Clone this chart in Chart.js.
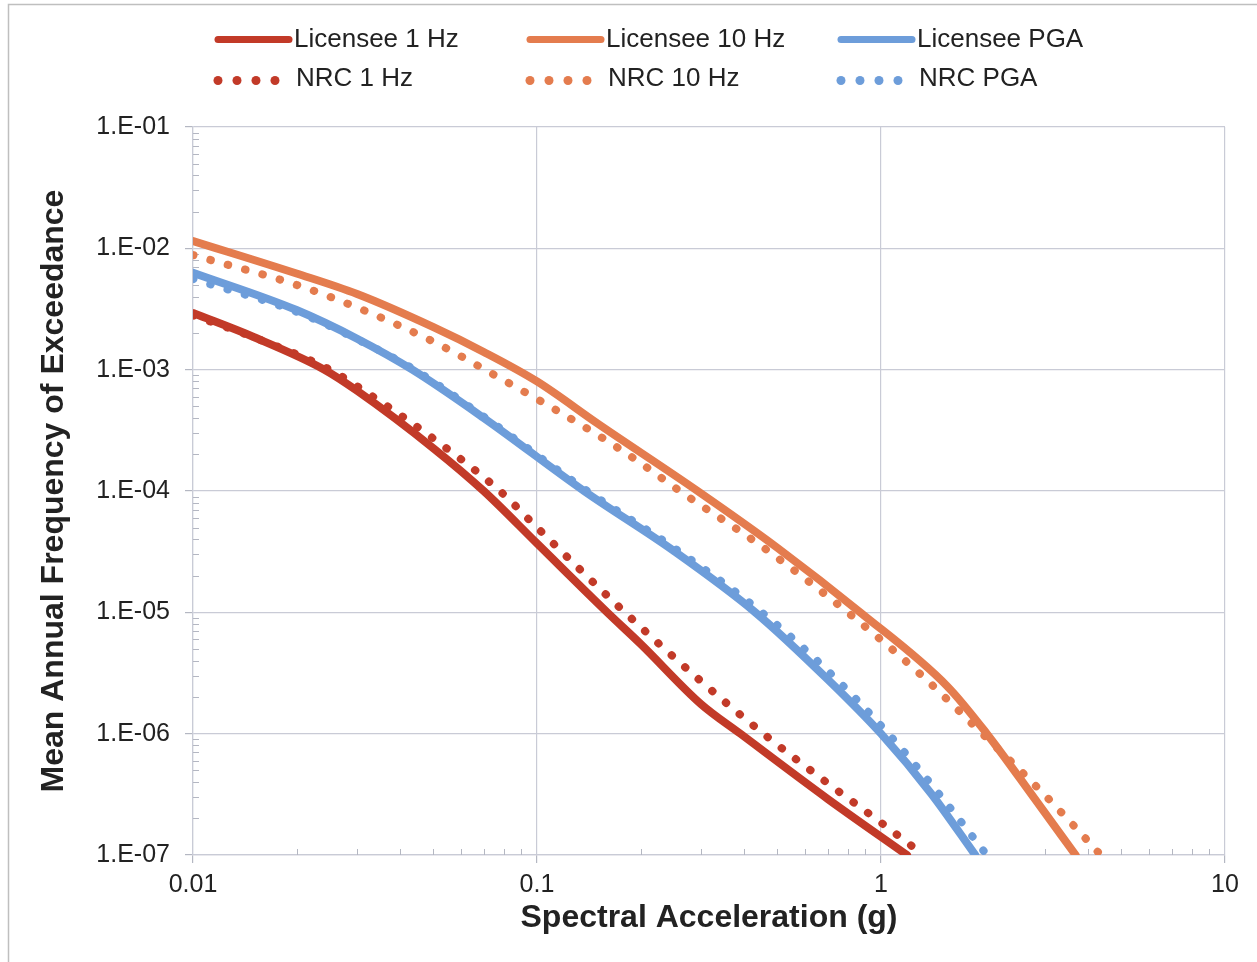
<!DOCTYPE html>
<html>
<head>
<meta charset="utf-8">
<title>Curvas de peligro</title>
<script src="https://cdn.jsdelivr.net/npm/chart.js@4.4.1/dist/chart.umd.min.js"></script>
<style>
    html, body { margin: 0; padding: 0; background: #fff; }
    #grafico { display: block; }
</style>
</head>
<body>
<canvas id="grafico" width="1257" height="962"></canvas>
<script>
const ACEL_LIC_1HZ = [0.01, 0.015, 0.0241, 0.03, 0.05, 0.07, 0.1, 0.16, 0.2, 0.3, 0.39, 0.7, 1.19];
const FREC_LIC_1HZ = [2.93e-3, 1.86e-3, 1e-3, 6.7e-4, 2.25e-4, 1e-4, 3.7e-5, 1e-5, 5.5e-6, 1.75e-6, 1e-6, 2.9e-7, 1e-7];

const ACEL_LIC_10HZ = [0.01, 0.02, 0.03, 0.05, 0.07, 0.1, 0.15, 0.293, 0.5, 0.87, 1.56, 2.03, 2.8, 3.68];
const FREC_LIC_10HZ = [1.15e-2, 6.2e-3, 4.2e-3, 2.24e-3, 1.4e-3, 8.0e-4, 3.6e-4, 1e-4, 3.4e-5, 1e-5, 2.45e-6, 1e-6, 2.9e-7, 1e-7];

const ACEL_LIC_PGA = [0.01, 0.02, 0.03, 0.0434, 0.07, 0.137, 0.25, 0.431, 0.7, 1.0, 1.4, 1.88];
const FREC_LIC_PGA = [6.3e-3, 3.1e-3, 1.8e-3, 1e-3, 4.0e-4, 1e-4, 3.2e-5, 1e-5, 2.8e-6, 1e-6, 3.2e-7, 1e-7];

const ACEL_NRC_1HZ = [0.01, 0.015, 0.025, 0.03, 0.05, 0.078, 0.1, 0.18, 0.3, 0.455, 0.7, 1, 1.33];
const FREC_NRC_1HZ = [2.8e-3, 1.85e-3, 1e-3, 7.3e-4, 2.7e-4, 1e-4, 5e-5, 1e-5, 2.7e-6, 1e-6, 3.9e-7, 1.85e-7, 1e-7];

const ACEL_NRC_10HZ = [0.01, 0.02, 0.03, 0.05, 0.0706, 0.15, 0.2, 0.26, 0.45, 0.8, 1.3, 1.97, 3, 4, 4.35];
const FREC_NRC_10HZ = [8.8e-3, 5.0e-3, 3.25e-3, 1.7e-3, 1e-3, 2.9e-4, 1.7e-4, 1e-4, 3.5e-5, 1e-5, 3.1e-6, 1e-6, 3.1e-7, 1.3e-7, 1e-7];

const ACEL_NRC_PGA = [0.01, 0.02, 0.03, 0.044, 0.07, 0.14, 0.25, 0.45, 0.7, 1.05, 1.5, 2.03];
const FREC_NRC_PGA = [5.6e-3, 3.0e-3, 1.78e-3, 1e-3, 4.1e-4, 1e-4, 3.4e-5, 1e-5, 3.3e-6, 1e-6, 3.0e-7, 1e-7];

// Marcas principales de los ejes.
const TICKS_X = [0.01, 0.1, 1, 10];
const TICKS_Y = [1e-7, 1e-6, 1e-5, 1e-4, 1e-3, 1e-2, 1e-1];

const FUENTE = '"Liberation Sans", Arial, Helvetica, sans-serif';
const ROJO = '#c23a28';
const NARANJA = '#e47c4e';
const AZUL = '#6d9dda';
const GRIS_REJILLA = '#c9cbd6';

// Junta las dos listas en puntos {x, y}.
const unirPuntos = (xs, ys) => xs.map((x, i) => ({ x: x, y: ys[i] }));

// Serie continua (Licensee) o punteada (NRC).
const serie = (nombre, xs, ys, color, punteada) => ({
    label: nombre,
    data: unirPuntos(xs, ys),
    borderColor: color,
    backgroundColor: color,
    borderWidth: 8,
    borderCapStyle: 'round',
    borderJoinStyle: 'round',
    borderDash: punteada ? [0.5, 17.5] : [],
    pointRadius: 0,
    cubicInterpolationMode: 'monotone',
    punteada: punteada
});

// Fondo blanco y marco exterior del gráfico.
const marcoExterior = {
    id: 'marcoExterior',
    beforeDraw(chart) {
        const ctx = chart.ctx;
        ctx.save();
        ctx.fillStyle = '#fff';
        ctx.fillRect(0, 0, chart.width, chart.height);
        ctx.strokeStyle = '#bfbfbf';
        ctx.lineWidth = 1.5;
        ctx.beginPath();
        ctx.moveTo(8.5, chart.height);
        ctx.lineTo(8.5, 4.5);
        ctx.lineTo(chart.width, 4.5);
        ctx.stroke();
        ctx.restore();
    }
};

// Marcas menores dentro del área (2..9 de cada década).
const marcasMenores = {
    id: 'marcasMenores',
    beforeDatasetsDraw(chart) {
        const { ctx, chartArea, scales } = chart;
        ctx.save();
        ctx.strokeStyle = '#b4b7c2';
        ctx.lineWidth = 1;
        ctx.beginPath();
        for (let e = -7; e < -1; e++) {
            for (let m = 2; m <= 9; m++) {
                const y = Math.round(scales.y.getPixelForValue(m * Math.pow(10, e))) + 0.5;
                ctx.moveTo(chartArea.left, y);
                ctx.lineTo(chartArea.left + 6, y);
            }
        }
        for (let e = -2; e < 1; e++) {
            for (let m = 2; m <= 9; m++) {
                const x = Math.round(scales.x.getPixelForValue(m * Math.pow(10, e))) + 0.5;
                ctx.moveTo(x, chartArea.bottom);
                ctx.lineTo(x, chartArea.bottom - 6);
            }
        }
        ctx.stroke();
        ctx.restore();
    }
};

// Leyenda en dos filas y tres columnas.
const leyenda = {
    id: 'leyenda',
    afterDraw(chart) {
        const ctx = chart.ctx;
        const COLUMNAS = [215, 527, 838];
        const FILAS = [39.5, 80.5];
        ctx.save();
        ctx.font = '26px ' + FUENTE;
        ctx.textBaseline = 'middle';
        ctx.textAlign = 'left';
        chart.data.datasets.forEach((ds, i) => {
            const x0 = COLUMNAS[i % 3];
            const y0 = FILAS[Math.floor(i / 3)];
            ctx.fillStyle = ds.borderColor;
            ctx.strokeStyle = ds.borderColor;
            if (ds.punteada) {
                for (let k = 0; k < 4; k++) {
                    ctx.beginPath();
                    ctx.arc(x0 + 3 + k * 19, y0, 4.5, 0, Math.PI * 2);
                    ctx.fill();
                }
            } else {
                ctx.lineWidth = 7;
                ctx.lineCap = 'round';
                ctx.beginPath();
                ctx.moveTo(x0 + 3, y0);
                ctx.lineTo(x0 + 74, y0);
                ctx.stroke();
            }
            ctx.fillStyle = '#222';
            ctx.fillText(ds.label, x0 + (ds.punteada ? 81 : 79), y0 + (ds.punteada ? -1.5 : 0.5));
        });
        ctx.restore();
    }
};

const formatoY = (v) => {
    const exp = Math.round(Math.log10(v));
    return '1.E-' + String(-exp).padStart(2, '0');
};

document.addEventListener('DOMContentLoaded', () => {
    new Chart(document.getElementById('grafico'), {
        type: 'line',
        data: {
            datasets: [
                serie('Licensee 1 Hz', ACEL_LIC_1HZ, FREC_LIC_1HZ, ROJO, false),
                serie('Licensee 10 Hz', ACEL_LIC_10HZ, FREC_LIC_10HZ, NARANJA, false),
                serie('Licensee PGA', ACEL_LIC_PGA, FREC_LIC_PGA, AZUL, false),
                serie('NRC 1 Hz', ACEL_NRC_1HZ, FREC_NRC_1HZ, ROJO, true),
                serie('NRC 10 Hz', ACEL_NRC_10HZ, FREC_NRC_10HZ, NARANJA, true),
                serie('NRC PGA', ACEL_NRC_PGA, FREC_NRC_PGA, AZUL, true)
            ]
        },
        options: {
            responsive: false,
            animation: false,
            events: [],
            layout: { padding: { top: 127, right: 32, bottom: 0, left: 0 } },
            plugins: {
                legend: { display: false },
                tooltip: { enabled: false },
                title: { display: false }
            },
            scales: {
                x: {
                    type: 'logarithmic',
                    position: 'bottom',
                    min: 0.01,
                    max: 10,
                    afterBuildTicks: (s) => { s.ticks = TICKS_X.map(v => ({ value: v })); },
                    afterFit: (s) => { s.height = 107; },
                    grid: { color: GRIS_REJILLA, lineWidth: 1.2, tickLength: 8, tickColor: '#b4b7c2' },
                    border: { color: GRIS_REJILLA, width: 1.2 },
                    ticks: {
                        autoSkip: false,
                        maxRotation: 0,
                        padding: 7,
                        color: '#222',
                        font: { family: FUENTE, size: 25 },
                        callback: (v) => String(v)
                    },
                    title: {
                        display: true,
                        text: 'Spectral Acceleration (g)',
                        color: '#222',
                        font: { family: FUENTE, size: 32, weight: 'bold' },
                        padding: { top: 0, bottom: 25 }
                    }
                },
                y: {
                    type: 'logarithmic',
                    position: 'left',
                    min: 1e-7,
                    max: 1e-1,
                    afterBuildTicks: (s) => { s.ticks = TICKS_Y.map(v => ({ value: v })); },
                    afterFit: (s) => { s.width = 193; },
                    grid: { color: GRIS_REJILLA, lineWidth: 1.2, tickLength: 8, tickColor: '#b4b7c2' },
                    border: { color: GRIS_REJILLA, width: 1.2 },
                    ticks: {
                        autoSkip: false,
                        padding: 15,
                        color: '#222',
                        font: { family: FUENTE, size: 25 },
                        callback: formatoY
                    },
                    title: {
                        display: true,
                        text: 'Mean Annual Frequency of Exceedance',
                        color: '#222',
                        font: { family: FUENTE, size: 32, weight: 'bold' },
                        padding: { top: 35, bottom: 0 }
                    }
                }
            }
        },
        plugins: [marcoExterior, marcasMenores, leyenda]
    });
});
</script>
</body>
</html>
